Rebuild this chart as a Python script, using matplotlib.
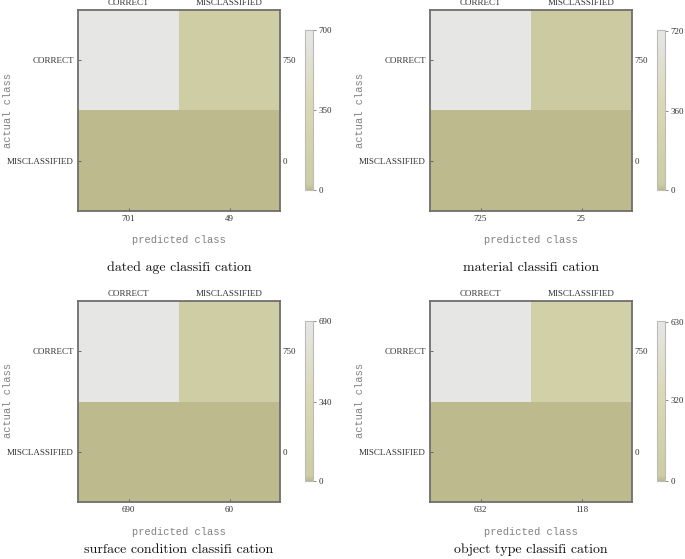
import numpy as np
import matplotlib
matplotlib.use("Agg")
import matplotlib.pyplot as plt
from matplotlib.colors import LinearSegmentedColormap, Normalize
from matplotlib.cm import ScalarMappable

classes = ["CORRECT", "MISCLASSIFIED"]
titles = ["dated age classifi cation", "material classifi cation",
          "surface condition classifi cation", "object type classifi cation"]
matrices = [
    [[701, 49], [0, 0]],
    [[725, 25], [0, 0]],
    [[690, 60], [0, 0]],
    [[632, 118], [0, 0]],
]
col_totals = [[701, 49], [725, 25], [690, 60], [632, 118]]
row_totals = [[750, 0], [750, 0], [750, 0], [750, 0]]
cbar_ticks = [[0, 350, 700], [0, 360, 720], [0, 340, 690], [0, 320, 630]]
cbar_max = [701, 725, 690, 632]

cmap = LinearSegmentedColormap.from_list(
    "mma",
    [(0.0, "#BDBB8D"), (0.035, "#CECCA2"), (0.2, "#D2D0A7"),
     (0.5, "#D9D8B2"), (1.0, "#E6E6E5")])

fig = plt.figure(figsize=(6.85, 5.59), dpi=100)
W, H = 685.0, 559.0

lefts = [78, 430]
tops = [10, 301]
label_off = [29, 30]
title_off = [57, 48]
axw, axh = 202, 201
serif = "Liberation Serif"
tickcol = "#333333"

for i in range(4):
    r, c = divmod(i, 2)
    L = lefts[c]
    T = tops[r]
    ax = fig.add_axes([L / W, 1 - (T + axh) / H, axw / W, axh / H])
    m = np.array(matrices[i], dtype=float)
    norm = Normalize(vmin=0, vmax=cbar_max[i])
    ax.pcolormesh(np.arange(3), np.arange(3), m, cmap=cmap, norm=norm)
    ax.set_xlim(0, 2)
    ax.set_ylim(2, 0)
    for s in ax.spines.values():
        s.set_color("#6E6E6E")
        s.set_linewidth(1.3)
    centers = [0.5, 1.5]
    ax.set_xticks(centers)
    ax.set_xticklabels([str(v) for v in col_totals[i]])
    ax.set_yticks(centers)
    ax.set_yticklabels(classes)
    ax.tick_params(axis="both", length=2, width=0.6, color="#555555",
                   labelsize=6.5, labelcolor=tickcol, pad=3, direction="in")
    for lab in ax.get_xticklabels() + ax.get_yticklabels():
        lab.set_fontfamily(serif)
    # top labels
    axt = ax.secondary_xaxis("top")
    axt.set_xticks(centers)
    axt.set_xticklabels(classes)
    axt.tick_params(length=2, width=0.6, color="#555555", labelsize=6.5,
                    labelcolor=tickcol, pad=2, direction="in")
    for lab in axt.get_xticklabels():
        lab.set_fontfamily(serif)
    axt.spines["top"].set_visible(False)
    # right labels
    axr = ax.secondary_yaxis("right")
    axr.set_yticks(centers)
    axr.set_yticklabels([str(v) for v in row_totals[i]])
    axr.tick_params(length=2, width=0.6, color="#555555", labelsize=6.5,
                    labelcolor=tickcol, pad=2, direction="in")
    for lab in axr.get_yticklabels():
        lab.set_fontfamily(serif)
    axr.spines["right"].set_visible(False)

    # colorbar
    cax = fig.add_axes([(L + 227) / W, 1 - (T + 180) / H, 8 / W, 160 / H])
    sm = ScalarMappable(norm=norm, cmap=cmap)
    cb = fig.colorbar(sm, cax=cax, ticks=cbar_ticks[i])
    cb.outline.set_edgecolor("#BBBBBB")
    cb.outline.set_linewidth(0.8)
    cax.tick_params(length=2, width=0.6, color="#777777", labelsize=6.5,
                    labelcolor=tickcol, pad=2)
    for lab in cax.get_yticklabels():
        lab.set_fontfamily(serif)

    # axis labels
    cx = (L + axw / 2) / W
    fig.text(cx, 1 - (T + axh + label_off[r]) / H, "predicted class",
             ha="center", va="center", fontsize=7.5, family="Liberation Mono",
             color="#808080")
    fig.text(cx, 1 - (T + axh + title_off[r]) / H, titles[i], ha="center",
             va="center", fontsize=10, family="cmr10", color="#111111")
    fig.text((L - 70) / W, 1 - (T + 100) / H, "actual class", ha="center",
             va="center", rotation=90, fontsize=7.5,
             family="Liberation Mono", color="#808080")

fig.savefig("out.png", dpi=100)
